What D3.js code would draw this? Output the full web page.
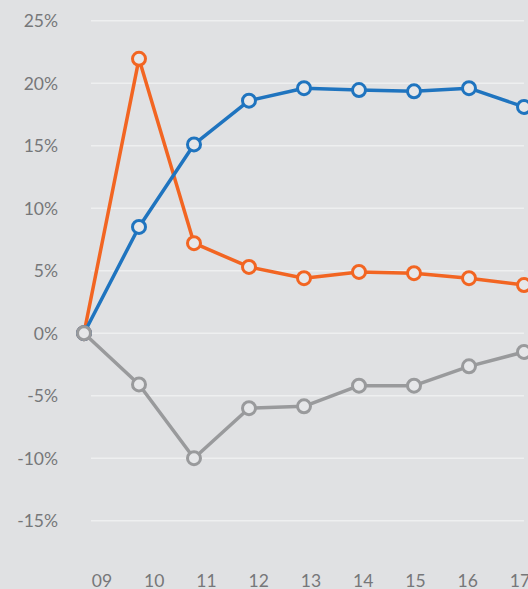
<!DOCTYPE html>
<html>
<head>
<meta charset="utf-8">
<script src="https://cdn.jsdelivr.net/npm/d3@7"></script>
<style>
html,body{margin:0;padding:0;background:#e0e1e3;}
svg{display:block;}
</style>
</head>
<body>
<svg id="chart" width="528" height="589"></svg>
<script>
const years = ["09","10","11","12","13","14","15","16","17"];
const yTicks = [25,20,15,10,5,0,-5,-10,-15];
const blueValues = [0, 8.5, 15.1, 18.6, 19.6, 19.45, 19.35, 19.6, 18.1];
const orangeValues = [0, 21.95, 7.2, 5.3, 4.4, 4.9, 4.8, 4.4, 3.85];
const grayValues = [0, -4.1, -10.0, -6.0, -5.85, -4.2, -4.2, -2.65, -1.5];

const seriesList = [
  {name:"orange", values: orangeValues, color:"#f26522"},
  {name:"blue", values: blueValues, color:"#1f74bf"},
  {name:"gray", values: grayValues, color:"#999a9c"}
];

const svg = d3.select("#chart");
const y = d3.scaleLinear().domain([-15, 25]).range([520.7, 20.7]);
const x = d3.scalePoint().domain(years).range([84, 524]);
const xLabel = d3.scalePoint().domain(years).range([102, 520]);

// gridlines
svg.append("g").selectAll("line").data(yTicks).join("line")
  .attr("x1", 91).attr("x2", 524)
  .attr("y1", d => y(d)).attr("y2", d => y(d))
  .attr("stroke", "#eeeff0").attr("stroke-width", 1.5);

// y labels
svg.append("g").selectAll("text").data(yTicks).join("text")
  .attr("x", 58).attr("y", d => y(d)).attr("dy", "0.36em")
  .attr("text-anchor", "end")
  .attr("font-family", "Lato, 'Open Sans', sans-serif")
  .attr("font-size", 17.5).attr("fill", "#767779")
  .text(d => d + "%");

// x labels
svg.append("g").selectAll("text").data(years).join("text")
  .attr("x", d => xLabel(d)).attr("y", 587)
  .attr("text-anchor", "middle")
  .attr("font-family", "Lato, 'Open Sans', sans-serif")
  .attr("font-size", 17.5).attr("fill", "#767779")
  .text(d => d);

const line = d3.line().x((d,i) => x(years[i])).y(d => y(d));

seriesList.forEach(s => {
  const g = svg.append("g");
  g.append("path").datum(s.values)
    .attr("d", line).attr("fill", "none")
    .attr("stroke", s.color).attr("stroke-width", 3.5)
    .attr("stroke-linejoin", "round");
  g.selectAll("circle").data(s.values).join("circle")
    .attr("cx", (d,i) => x(years[i])).attr("cy", d => y(d))
    .attr("r", 6.5).attr("fill", "#e6e7e9")
    .attr("stroke", s.color).attr("stroke-width", 3);
});
</script>
</body>
</html>
